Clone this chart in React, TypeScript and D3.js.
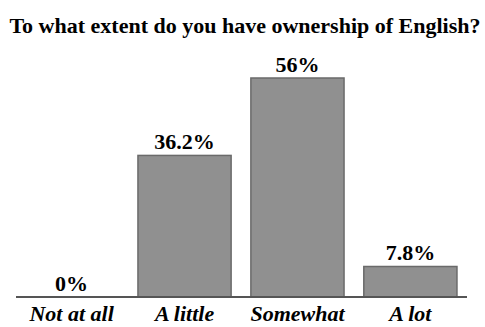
import React from "react";
import * as d3 from "d3";

const categories = ["Not at all", "A little", "Somewhat", "A lot"];
const values = [0, 36.2, 56, 7.8];
const valueLabels = ["0%", "36.2%", "56%", "7.8%"];
const title = "To what extent do you have ownership of English?";

export default function App() {
  const W = 485, H = 327;
  const x = d3.scaleBand<string>().domain(categories).range([16, 466]).paddingInner(0.175).paddingOuter(0.08);
  const y = d3.scaleLinear().domain([0, 56]).range([297, 78]);
  const font = "'Liberation Serif', 'Times New Roman', serif";
  return (
    <svg width={W} height={H} style={{ position: "absolute", left: 0, top: 0 }}>
      <rect width={W} height={H} fill="#fff" />
      <text x={245} y={33} textAnchor="middle" fontFamily={font} fontWeight="bold" fontSize={22}>{title}</text>
      {categories.map((c, i) => (
        <g key={c}>
          {values[i] > 0 && (
            <rect x={x(c)!} y={y(values[i])} width={x.bandwidth()} height={y(0) - y(values[i])}
              fill="#909090" stroke="#6a6a6a" strokeWidth={1.5} />
          )}
          <text x={x(c)! + x.bandwidth() / 2} y={y(values[i]) - 6} textAnchor="middle"
            fontFamily={font} fontWeight="bold" fontSize={22}>{valueLabels[i]}</text>
          <text x={x(c)! + x.bandwidth() / 2} y={321} textAnchor="middle"
            fontFamily={font} fontWeight="bold" fontStyle="italic" fontSize={22}>{c}</text>
        </g>
      ))}
      <line x1={16} x2={467} y1={297} y2={297} stroke="#555" strokeWidth={2} />
    </svg>
  );
}
